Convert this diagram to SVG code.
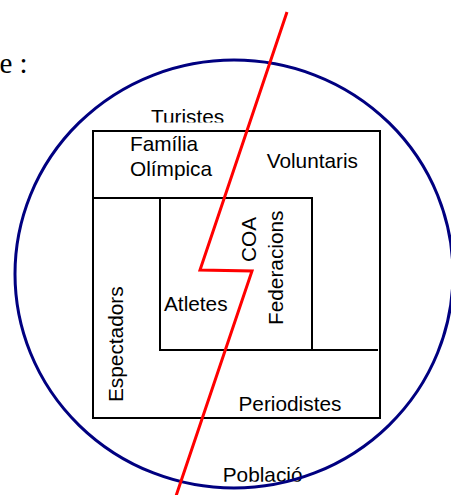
<svg xmlns="http://www.w3.org/2000/svg" width="451" height="495" viewBox="0 0 451 495">
<defs>
<style>
.t{font-family:"Liberation Sans",Arial,sans-serif;font-size:20.8px;fill:#000}
.ln{stroke:#000;stroke-width:2;fill:none}
</style>
<clipPath id="clipTur"><rect x="0" y="0" width="451" height="122.6"/></clipPath>
<clipPath id="clipPob"><rect x="0" y="0" width="451" height="481.8"/></clipPath>
</defs>
<rect width="451" height="495" fill="#fff"/>
<text x="-0.5" y="73" style="font-family:'Liberation Serif','Times New Roman',serif;font-size:29px;fill:#000">e :</text>

<g id="turistes"><text class="t" x="151" y="124.2" clip-path="url(#clipTur)">Turistes</text></g>
<g id="poblacio"><text class="t" x="222.7" y="481.6" clip-path="url(#clipPob)">Població</text></g>

<g id="boxes">
<rect class="ln" x="93" y="131" width="287" height="287"/>
<polyline class="ln" points="93,198 312,198 312,350"/>
<polyline class="ln" points="160,198 160,350 378,350"/>
</g>

<g id="familia"><text class="t" x="130" y="151">Família</text><text class="t" x="130" y="175.7">Olímpica</text></g>
<g id="voluntaris"><text class="t" x="266.7" y="167.7">Voluntaris</text></g>
<g id="atletes"><text class="t" x="164" y="310.7">Atletes</text></g>
<g id="coa"><text class="t" transform="translate(256,262) rotate(-90)">COA</text></g>
<g id="federacions"><text class="t" transform="translate(283,325) rotate(-90)">Federacions</text></g>
<g id="espectadors"><text class="t" transform="translate(123,402) rotate(-90)">Espectadors</text></g>
<g id="periodistes"><text class="t" x="238.5" y="410.7">Periodistes</text></g>

<g id="circle"><ellipse cx="234" cy="274" rx="219" ry="214" fill="none" stroke="#000080" stroke-width="3"/></g>

<g id="connectors">
<polyline points="287,12 200,270 252,271 176,496" fill="none" stroke="#ff0000" stroke-width="3"/>
</g>
</svg>
